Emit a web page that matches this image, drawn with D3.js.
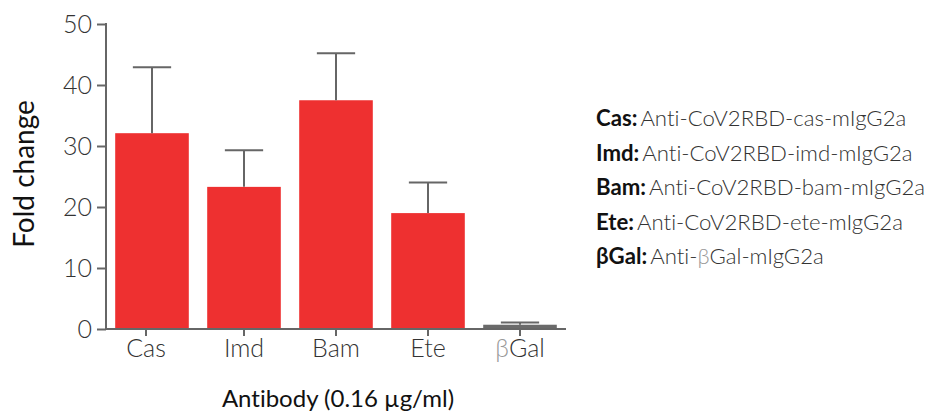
<!DOCTYPE html>
<html>
<head>
<meta charset="utf-8">
<script src="https://cdn.jsdelivr.net/npm/d3@7"></script>
<style>
  body { margin: 0; background: #fff; }
  svg text { font-family: Lato, "Open Sans", sans-serif; font-variant-ligatures: none; }
  .axis path, .axis line { stroke: #666; stroke-width: 2; }
  .axis text { font-size: 25px; font-weight: 300; fill: #333; }
</style>
</head>
<body>
<svg id="chart" width="932" height="414"></svg>
<script>
// データ
var categories = ["Cas", "Imd", "Bam", "Ete", "βGal"];
var means = [32.1, 23.3, 37.5, 19.0, 0.7];
var errors = [10.8, 6.0, 7.7, 5.0, 0.35];
var barColors = ["#ee3030", "#ee3030", "#ee3030", "#ee3030", "#6a6a6a"];
var yTicks = [0, 10, 20, 30, 40, 50];
var legendKeys = ["Cas:", "Imd:", "Bam:", "Ete:", "βGal:"];
var legendNames = ["Anti-CoV2RBD-cas-mIgG2a", "Anti-CoV2RBD-imd-mIgG2a", "Anti-CoV2RBD-bam-mIgG2a", "Anti-CoV2RBD-ete-mIgG2a", "Anti-βGal-mIgG2a"];

var svg = d3.select("#chart");

var x = d3.scaleBand()
    .domain(categories)
    .range([106, 566])
    .paddingInner(0.2)
    .paddingOuter(0.1);

var y = d3.scaleLinear()
    .domain([0, 50])
    .range([329, 24]);

// 棒
svg.append("g").selectAll("rect")
    .data(categories)
    .enter().append("rect")
    .attr("x", d => x(d))
    .attr("width", x.bandwidth())
    .attr("y", (d, i) => y(means[i]))
    .attr("height", (d, i) => y(0) - y(means[i]))
    .attr("fill", (d, i) => barColors[i]);

// エラーバー (上側のみ)
var err = svg.append("g")
    .attr("stroke", "#666")
    .attr("stroke-width", 2);

categories.forEach(function(c, i) {
    var cx = x(c) + x.bandwidth() / 2,
        top = y(means[i] + errors[i]),
        cap = x.bandwidth() * 0.26;
    err.append("line")
        .attr("x1", cx).attr("x2", cx)
        .attr("y1", y(means[i])).attr("y2", top);
    err.append("line")
        .attr("x1", cx - cap).attr("x2", cx + cap)
        .attr("y1", top).attr("y2", top);
});

// 軸
var xAxis = svg.append("g")
    .attr("class", "axis")
    .attr("transform", "translate(0," + y(0) + ")")
    .call(d3.axisBottom(x).tickSize(7).tickSizeOuter(0).tickPadding(3));
xAxis.select(".domain").attr("d", "M105,0H566");

// 元の図では最初の目盛りだけ少し左にずれている
xAxis.selectAll(".tick")
    .filter((d, i) => i === 0)
    .attr("transform", d => "translate(" + (x(d) + x.bandwidth() / 2 - 6) + ",0)");

var yAxis = svg.append("g")
    .attr("class", "axis")
    .attr("transform", "translate(106,0)")
    .call(d3.axisLeft(y).tickValues(yTicks).tickSize(9).tickSizeOuter(0).tickPadding(5));
yAxis.select(".domain").attr("d", "M0," + (y(50) - 1) + "V" + (y(0) + 1));

svg.selectAll(".axis").attr("font-family", null).attr("font-size", null);

// βは少し薄い灰色
xAxis.selectAll(".tick text").each(function(d) {
    if (d.charAt(0) === "β") {
        var t = d3.select(this).text("");
        t.append("tspan").attr("fill", "#999").text("β");
        t.append("tspan").text(d.slice(1));
    }
});

// 軸タイトル
svg.append("text")
    .attr("transform", "translate(34,174) rotate(-90)")
    .attr("text-anchor", "middle")
    .attr("font-size", 28)
    .attr("fill", "#111")
    .text("Fold change");

svg.append("text")
    .attr("x", 338)
    .attr("y", 407)
    .attr("text-anchor", "middle")
    .attr("font-size", 24)
    .attr("fill", "#111")
    .text("Antibody (0.16 µg/ml)");

// 凡例
var legend = svg.append("g").attr("font-size", 22.2);
legendKeys.forEach(function(k, i) {
    var t = legend.append("text")
        .attr("x", 596)
        .attr("y", 126 + i * 34.6)
        .attr("fill", "#111");
    t.append("tspan").attr("font-weight", 700).text(k);
    var name = legendNames[i];
    var b = name.indexOf("β");
    if (b < 0) {
        t.append("tspan").attr("dx", 3).attr("font-weight", 300).attr("fill", "#333").text(name);
    } else {
        t.append("tspan").attr("dx", 3).attr("font-weight", 300).attr("fill", "#333").text(name.slice(0, b));
        t.append("tspan").attr("font-weight", 300).attr("fill", "#999").text("β");
        t.append("tspan").attr("font-weight", 300).attr("fill", "#333").text(name.slice(b + 1));
    }
});
</script>
</body>
</html>
